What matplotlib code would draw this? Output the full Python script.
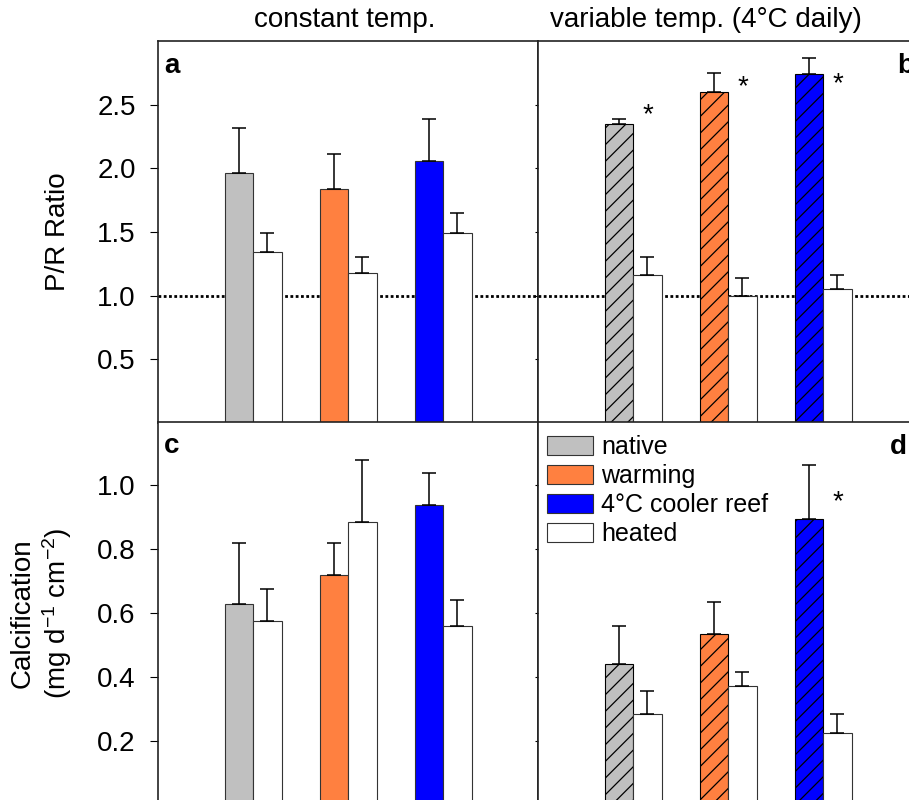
import numpy as np
import matplotlib
matplotlib.use("Agg")
import matplotlib.pyplot as plt
from matplotlib.patches import Patch

plt.rcParams["font.family"] = ["Liberation Sans", "DejaVu Sans"]
plt.rcParams["mathtext.fontset"] = "custom"
plt.rcParams["mathtext.rm"] = "Liberation Sans"
plt.rcParams["mathtext.it"] = "Liberation Sans:italic"
plt.rcParams["hatch.linewidth"] = 0.9
plt.rcParams["hatch.color"] = "black"

# Grupos de coral
origins = ["native", "warming", "4°C cooler reef"]
origin_colors = ["#c0c0c0", "#ff8040", "#0000ff"]

# P/R ratio, temperatura constante (panel a)
pr_const = [1.96, 1.84, 2.06]
pr_const_se = [0.36, 0.27, 0.33]
pr_const_heat = [1.34, 1.18, 1.49]
pr_const_heat_se = [0.15, 0.12, 0.16]

# P/R ratio, temperatura variable (panel b)
pr_var = [2.35, 2.60, 2.74]
pr_var_se = [0.04, 0.15, 0.13]
pr_var_heat = [1.16, 1.00, 1.05]
pr_var_heat_se = [0.14, 0.14, 0.11]

# Calcificacion, temperatura constante (panel c)
cal_const = [0.63, 0.72, 0.94]
cal_const_se = [0.19, 0.10, 0.10]
cal_const_heat = [0.575, 0.885, 0.56]
cal_const_heat_se = [0.10, 0.195, 0.08]

# Calcificacion, temperatura variable (panel d)
cal_var = [0.44, 0.535, 0.895]
cal_var_se = [0.12, 0.10, 0.17]
cal_var_heat = [0.285, 0.372, 0.225]
cal_var_heat_se = [0.072, 0.044, 0.06]

# asteriscos (altura) en los paneles b y d
stars_b = [2.42, 2.64, 2.66]
stars_d = [None, None, 0.948]

x = np.arange(1, 4)
w = 0.3
edge = "#333333"

fig = plt.figure(figsize=(9.09, 8), dpi=100)
W, H = 909, 800


def axes_px(left, top, width, height):
    return fig.add_axes([left / W, 1 - (top + height) / H, width / W, height / H])


ax_a = axes_px(158, 41, 380, 382)
ax_b = axes_px(538, 41, 380, 382)
ax_c = axes_px(158, 421.5, 380, 383.5)
ax_d = axes_px(538, 421.5, 380, 383.5)


def draw(ax, vals, se, heat, heat_se, hatched):
    if hatched:
        ax.bar(x - w / 2, vals, w, color=origin_colors, edgecolor="black", linewidth=0.8,
               hatch="//", zorder=3)
    else:
        ax.bar(x - w / 2, vals, w, color=origin_colors, edgecolor=edge, linewidth=0.8, zorder=3)
    ax.bar(x + w / 2, heat, w, color="white", edgecolor=edge, linewidth=0.8, zorder=3)
    ax.errorbar(x - w / 2, vals, yerr=[np.zeros(3), se], fmt="none", ecolor="black",
                elinewidth=1.1, capsize=5, capthick=1.1, zorder=4)
    ax.errorbar(x + w / 2, heat, yerr=[np.zeros(3), heat_se], fmt="none", ecolor="black",
                elinewidth=1.1, capsize=5, capthick=1.1, zorder=4)
    ax.set_xlim(0, 4)
    ax.set_xticks([])
    for s in ax.spines.values():
        s.set_linewidth(1.2)
        s.set_color("#222222")


draw(ax_a, pr_const, pr_const_se, pr_const_heat, pr_const_heat_se, False)
draw(ax_b, pr_var, pr_var_se, pr_var_heat, pr_var_heat_se, True)
draw(ax_c, cal_const, cal_const_se, cal_const_heat, cal_const_heat_se, False)
draw(ax_d, cal_var, cal_var_se, cal_var_heat, cal_var_heat_se, True)

for ax in (ax_a, ax_b):
    ax.set_ylim(0, 3.0)
    ax.set_yticks([0.5, 1.0, 1.5, 2.0, 2.5])
    ax.axhline(1.0, color="black", lw=2, linestyle=(0, (1, 0.9)), zorder=1)
for ax in (ax_c, ax_d):
    ax.set_ylim(0, 1.2)
    ax.set_yticks([0.2, 0.4, 0.6, 0.8, 1.0])
    ax.set_yticklabels(["0.2", "0.4", "0.6", "0.8", "1.0"])

for ax in (ax_a, ax_c):
    ax.tick_params(axis="y", direction="out", length=6, width=0.8, pad=10, labelsize=20)
for ax in (ax_b, ax_d):
    ax.tick_params(axis="y", direction="out", length=2, width=0.8, labelleft=False)

# asteriscos
for i, yy in enumerate(stars_b):
    ax_b.text(x[i] + 0.16, yy, "*", fontsize=20, ha="center", va="center")
for i, yy in enumerate(stars_d):
    if yy is not None:
        ax_d.text(x[i] + 0.16, yy, "*", fontsize=20, ha="center", va="center")

# letras de panel
ax_a.text(0.037, 0.935, "a", transform=ax_a.transAxes, fontsize=20, fontweight="bold",
          ha="center", va="center")
ax_b.text(0.945, 0.935, "b", transform=ax_b.transAxes, fontsize=20, fontweight="bold",
          ha="left", va="center")
ax_c.text(0.037, 0.935, "c", transform=ax_c.transAxes, fontsize=20, fontweight="bold",
          ha="center", va="center")
ax_d.text(0.926, 0.934, "d", transform=ax_d.transAxes, fontsize=20, fontweight="bold",
          ha="left", va="center")

# titulos de columna
fig.text(345 / W, 1 - 20 / H, "constant temp.", fontsize=20, ha="center", va="center")
fig.text(706 / W, 1 - 20 / H, "variable temp. (4°C daily)", fontsize=20, ha="center", va="center")

# etiquetas de eje
fig.text(58 / W, 1 - 232 / H, "P/R Ratio", fontsize=20, rotation=90, ha="center", va="center")
fig.text(42 / W, 1 - 613 / H, "Calcification\n(mg d$^{-1}$ cm$^{-2}$)", fontsize=20,
         rotation=90, ha="center", va="center", multialignment="center")

# leyenda
handles = [Patch(facecolor=c, edgecolor=edge, linewidth=0.8) for c in origin_colors]
handles.append(Patch(facecolor="white", edgecolor=edge, linewidth=0.8))
labels = origins + ["heated"]
ax_d.legend(handles, labels, loc="upper left", bbox_to_anchor=(0.024, 0.965), frameon=False,
            fontsize=18, handlelength=1.85, handleheight=0.8, handletextpad=0.3,
            labelspacing=0.2, borderpad=0, borderaxespad=0)

fig.savefig("out.png", dpi=100)
